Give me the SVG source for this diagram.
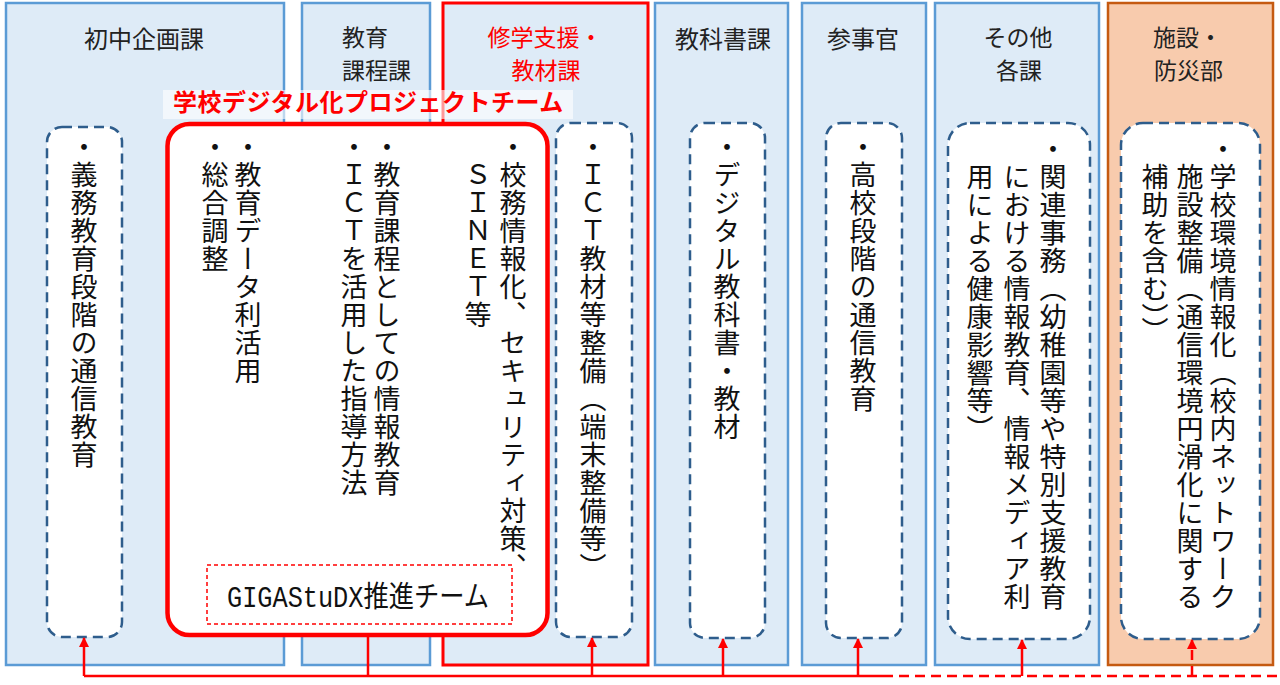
<svg xmlns="http://www.w3.org/2000/svg" width="1280" height="685" viewBox="0 0 1280 685">
<defs>
<style>
.panel{fill:#deebf7;stroke:#5b9bd5;stroke-width:2.5}
.panel-red{fill:#deebf7;stroke:#ff0000;stroke-width:3}
.panel-org{fill:#f8cbad;stroke:#c55a11;stroke-width:2.5}
.dbox{fill:#ffffff;stroke:#2e5d8c;stroke-width:2.5;stroke-dasharray:10 6}
.ptitle{font-family:"Noto Sans CJK JP","Noto Sans",sans-serif;font-size:23px;fill:#222222}
.vt{font-family:"Noto Sans CJK JP","Noto Sans",sans-serif;font-size:27px;fill:#111111;writing-mode:vertical-rl;letter-spacing:1px}
.conn{fill:none;stroke:#ff0000;stroke-width:2.5}
.dash{stroke-dasharray:10 6}
</style>
<marker id="ah" viewBox="0 0 10 10" refX="9" refY="5" markerWidth="10" markerHeight="10" markerUnits="userSpaceOnUse" orient="auto">
<path d="M0,0 L10,5 L0,10 z" fill="#ff0000"/>
</marker>
</defs>
<rect width="1280" height="685" fill="#ffffff"/>

<g id="panel-shochu">
<rect class="panel" x="6" y="3" width="278" height="662"/>
<text class="ptitle" x="144" y="48" text-anchor="middle" style="font-size:24px">初中企画課</text>
</g>
<g id="panel-kyoiku-katei">
<rect class="panel" x="302" y="3" width="128" height="662"/>
<text class="ptitle" x="342" y="46">教育</text>
<text class="ptitle" x="342" y="79">課程課</text>
</g>
<g id="panel-shugaku">
<rect class="panel-red" x="443" y="3" width="205" height="662"/>
<text class="ptitle" x="545" y="46" text-anchor="middle" style="fill:#ff0000">修学支援・</text>
<text class="ptitle" x="546" y="79" text-anchor="middle" style="fill:#ff0000">教材課</text>
</g>
<g id="panel-kyokasho">
<rect class="panel" x="655" y="3" width="133" height="662"/>
<text class="ptitle" x="723" y="48" text-anchor="middle" style="font-size:24px">教科書課</text>
</g>
<g id="panel-sanjikan">
<rect class="panel" x="802" y="3" width="124" height="662"/>
<text class="ptitle" x="863" y="48" text-anchor="middle" style="font-size:24px">参事官</text>
</g>
<g id="panel-sonota">
<rect class="panel" x="935" y="3" width="164" height="662"/>
<text class="ptitle" x="1018" y="46" text-anchor="middle">その他</text>
<text class="ptitle" x="1019" y="79" text-anchor="middle">各課</text>
</g>
<g id="panel-shisetsu">
<rect class="panel-org" x="1108" y="3" width="165" height="662"/>
<text class="ptitle" x="1153" y="46">施設・</text>
<text class="ptitle" x="1154" y="79">防災部</text>
</g>

<g id="pt-label">
<rect x="163" y="90" width="410" height="29" fill="#ffffff" fill-opacity="0.6"/>
<text x="173" y="111" font-family="'Noto Sans CJK JP','Noto Sans',sans-serif" font-size="24" font-weight="bold" fill="#ff0000" letter-spacing="0.5">学校デジタル化プロジェクトチーム</text>
</g>

<g id="project-team">
<rect x="167.5" y="124" width="380" height="511" rx="22" ry="22" fill="#ffffff" stroke="#ff0000" stroke-width="4.5"/>
<text class="vt" x="513" y="133">・校務情報化、セキュリティ対策、</text>
<text class="vt" x="478" y="161">ＳＩＮＥＴ等</text>
<text class="vt" x="387" y="133">・教育課程としての情報教育</text>
<text class="vt" x="354" y="133">・ＩＣＴを活用した指導方法</text>
<text class="vt" x="248" y="133">・教育データ利活用</text>
<text class="vt" x="215" y="133">・総合調整</text>
</g>

<g id="giga-team">
<rect x="207" y="565" width="305" height="59" fill="none" stroke="#ff0000" stroke-width="1.5" stroke-dasharray="4 3"/>
<text x="227" y="607" font-family="'Liberation Mono','Noto Sans CJK JP',monospace" font-size="29" fill="#111111" textLength="262" lengthAdjust="spacingAndGlyphs">GIGAStuDX推進チーム</text>
</g>

<g id="box-gimu">
<rect class="dbox" x="47" y="127" width="75" height="510" rx="15" ry="15"/>
<text class="vt" x="84" y="133">・義務教育段階の通信教育</text>
</g>
<g id="box-ict">
<rect class="dbox" x="556" y="123" width="76" height="514" rx="15" ry="15"/>
<text class="vt" x="593" y="133">・ＩＣＴ教材等整備（端末整備等）</text>
</g>
<g id="box-digital">
<rect class="dbox" x="690" y="123" width="75" height="515" rx="15" ry="15"/>
<text class="vt" x="727" y="133">・デジタル教科書・教材</text>
</g>
<g id="box-koko">
<rect class="dbox" x="826" y="123" width="76" height="515" rx="15" ry="15"/>
<text class="vt" x="863" y="133">・高校段階の通信教育</text>
</g>
<g id="box-kanren">
<rect class="dbox" x="948" y="123" width="142" height="516" rx="22" ry="22"/>
<text class="vt" x="1053" y="135">・関連事務（幼稚園等や特別支援教育</text>
<text class="vt" x="1017" y="163">における情報教育、情報メディア利</text>
<text class="vt" x="980" y="163">用による健康影響等）</text>
</g>
<g id="box-gakko-kankyo">
<rect class="dbox" x="1121" y="123" width="139" height="516" rx="22" ry="22"/>
<text class="vt" x="1223" y="135">・学校環境情報化（校内ネットワーク</text>
<text class="vt" x="1190" y="163">施設整備（通信環境円滑化に関する</text>
<text class="vt" x="1155" y="163">補助を含む））</text>
</g>

<g id="connectors">
<path class="conn" d="M84,676 H883"/>
<path class="conn dash" d="M883,676 H1280"/>
<path class="conn" d="M368,637 V676"/>
<path class="conn" d="M84,676 V638" marker-end="url(#ah)"/>
<path class="conn" d="M592,676 V638" marker-end="url(#ah)"/>
<path class="conn" d="M723,676 V639" marker-end="url(#ah)"/>
<path class="conn" d="M858,676 V639" marker-end="url(#ah)"/>
<path class="conn" d="M1022,676 V640" marker-end="url(#ah)"/>
<path class="conn dash" d="M1192,676 V640" marker-end="url(#ah)"/>
</g>
</svg>
